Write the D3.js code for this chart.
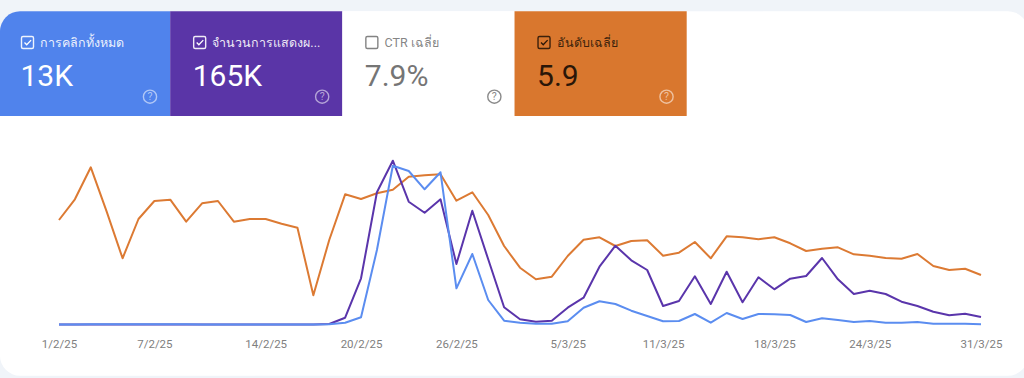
<!DOCTYPE html>
<html>
<head>
<meta charset="utf-8">
<script src="https://cdn.jsdelivr.net/npm/d3@7"></script>
<style>
  html, body { margin: 0; padding: 0; background: #f0f4f9; overflow: hidden; }
  text { font-family: Roboto, "Noto Sans", sans-serif; }
</style>
</head>
<body>
<div id="chart"></div>
<script>
// heights are read off the picture, the chart has no y axis (peak is about 165)
const cardLabels = ["การคลิกทั้งหมด", "จำนวนการแสดงผ...", "CTR เฉลี่ย", "อันดับเฉลี่ย"];
const cardValues = ["13K", "165K", "7.9%", "5.9"];
const cardChecked = [true, true, false, true];
const cardFills = ["#5083ec", "#5a35a7", "#ffffff", "#d9772e"];
const cardInk = ["#ffffff", "#ffffff", "#757575", "#2a1608"];

const tickLabels = ["1/2/25", "7/2/25", "14/2/25", "20/2/25", "26/2/25", "5/3/25", "11/3/25", "18/3/25", "24/3/25", "31/3/25"];
const tickDays = [0, 6, 13, 19, 25, 32, 38, 45, 51, 58];

const clicks = [0, 0, 0.2, 0.2, 0.2, 0.2, 0.2, 0.2, 0.2, 0.1, 0.1, 0, 0.1, 0.1, 0.1, 0.1, 0, 0.2, 1.8, 7.2, 74.5, 158.8, 153.5, 135.2, 152.2, 36.2, 70.5, 24.5, 3.8, 1.8, 0.8, 0.8, 3.2, 16.8, 23.2, 20.5, 13.8, 8.5, 3.2, 3.5, 10.5, 1.8, 11.5, 5.5, 10.5, 10.2, 9.5, 2.5, 6.2, 4.5, 2.5, 3.5, 1.8, 1.8, 2.5, 0.8, 0.8, 0.8, 0.2];
const impressions = [0, 0, 0.1, 0.1, 0.1, 0.1, 0.1, 0.1, 0.1, 0, 0, 0, 0, 0, 0, 0, 0, 0.5, 6.8, 46.2, 132.2, 163.8, 122.8, 111.8, 125.2, 60.5, 113.8, 65.2, 17.2, 5.2, 2.8, 3.8, 16.8, 26.8, 57.8, 78.8, 64.2, 54.5, 18.5, 23.5, 48.2, 20.5, 52.8, 22.2, 47.2, 35.2, 45.8, 48.5, 66.5, 45.2, 30.5, 33.8, 30.5, 22.8, 18.5, 12.8, 9.2, 10.8, 7.5];
const position = [104.5, 125.2, 157.2, 112.8, 66.2, 105.5, 123.5, 124.8, 102.8, 121.2, 123.5, 102.8, 105.5, 105.5, 100.8, 96.8, 29.2, 84.5, 130.2, 125.5, 131.2, 134.8, 147.8, 149.2, 150.2, 123.8, 132.2, 109.5, 78.5, 56.8, 45.2, 47.8, 68.5, 84.8, 87.2, 78.5, 83.5, 84.2, 68.8, 71.8, 82.5, 66.2, 88.2, 87.2, 85.2, 87.2, 81.2, 73.5, 75.8, 77.2, 70.2, 68.8, 66.5, 65.8, 70.5, 58.5, 54.5, 55.8, 49.5];

const width = 1024, height = 378;
const svg = d3.select("#chart").append("svg")
    .attr("width", width)
    .attr("height", height)
    .style("display", "block");

// white panel behind everything, runs a little past the right edge
svg.append("rect")
    .attr("x", 0).attr("y", 11.3)
    .attr("width", width + 4).attr("height", 364.4)
    .attr("rx", 20)
    .attr("fill", "#ffffff");

// metric cards
const cardX = d3.scaleBand().domain(d3.range(4)).range([-2, 686.7]);
const cards = svg.selectAll(".card")
    .data(cardLabels)
    .enter()
    .append("g")
    .attr("class", "card")
    .attr("transform", (d, i) => `translate(${cardX(i)},11.3)`);

cards.append("path")
    .attr("d", (d, i) => {
        const w = cardX.bandwidth();
        if (i == 0) return `M2,104.7V20A20,20 0 0 1 22,0H${w}V104.7Z`;
        return `M0,0H${w}V104.7H0Z`;
    })
    .attr("fill", (d, i) => cardFills[i]);

// checkbox
cards.append("rect")
    .attr("x", 23.5).attr("y", 25.2)
    .attr("width", 12).attr("height", 12)
    .attr("rx", 1.5)
    .attr("fill", "none")
    .attr("stroke", (d, i) => cardInk[i])
    .attr("stroke-opacity", 0.9)
    .attr("stroke-width", 1.4);
cards.filter((d, i) => cardChecked[i]).append("path")
    .attr("d", "M26.5,31.2l2.2,2.2l4.4,-4.6")
    .attr("fill", "none")
    .attr("stroke", d => cardInk[cardLabels.indexOf(d)])
    .attr("stroke-width", 1.3);

cards.append("text")
    .attr("x", 42.2).attr("y", 35.5)
    .style("font-size", "12.5px")
    .attr("fill", (d, i) => cardInk[i])
    .attr("fill-opacity", 0.9)
    .text(d => d);

cards.append("text")
    .attr("x", 22.5).attr("y", 74.5)
    .style("font-size", "30px")
    .attr("fill", (d, i) => cardInk[i])
    .text((d, i) => cardValues[i]);

// help icon
cards.append("circle")
    .attr("cx", 152).attr("cy", 85.4)
    .attr("r", 6.6)
    .attr("fill", "none")
    .attr("stroke", (d, i) => i == 2 ? "#8a8a8a" : "#ffffff")
    .attr("stroke-opacity", (d, i) => i == 2 ? 1 : 0.55)
    .attr("stroke-width", 1.4);
cards.append("text")
    .attr("x", 152).attr("y", 89.2)
    .attr("text-anchor", "middle")
    .style("font-size", "10.5px")
    .attr("fill", (d, i) => i == 2 ? "#8a8a8a" : "#ffffff")
    .attr("fill-opacity", (d, i) => i == 2 ? 1 : 0.55)
    .text("?");

// scales
const x = d3.scaleLinear().domain([0, 58]).range([59, 981]);
const y = d3.scaleLinear().domain([0, 165]).range([324.5, 159.5]);

const line = d3.line()
    .x((d, i) => x(i))
    .y(d => y(d));

const xAxis = d3.axisBottom(x)
    .tickValues(tickDays)
    .tickFormat((d, i) => tickLabels[i])
    .tickSize(0)
    .tickPadding(0);

const xAxisGroup = svg.append("g")
    .attr("transform", "translate(0,340)")
    .call(xAxis);
xAxisGroup.select(".domain").remove();
xAxisGroup.selectAll("text")
    .attr("fill", "#808080")
    .style("font-size", "11.5px")
    .style("font-family", "Roboto, sans-serif");

// blue goes last, it sits over the purple along the flat start
const seriesList = [position, impressions, clicks];
const seriesColors = ["#dc7a33", "#5a35ab", "#5b8df0"];

svg.selectAll(".series")
    .data(seriesList)
    .enter()
    .append("path")
    .attr("class", "series")
    .attr("d", line)
    .attr("fill", "none")
    .attr("stroke", (d, i) => seriesColors[i])
    .attr("stroke-width", 2)
    .attr("stroke-linejoin", "round");
</script>
</body>
</html>
